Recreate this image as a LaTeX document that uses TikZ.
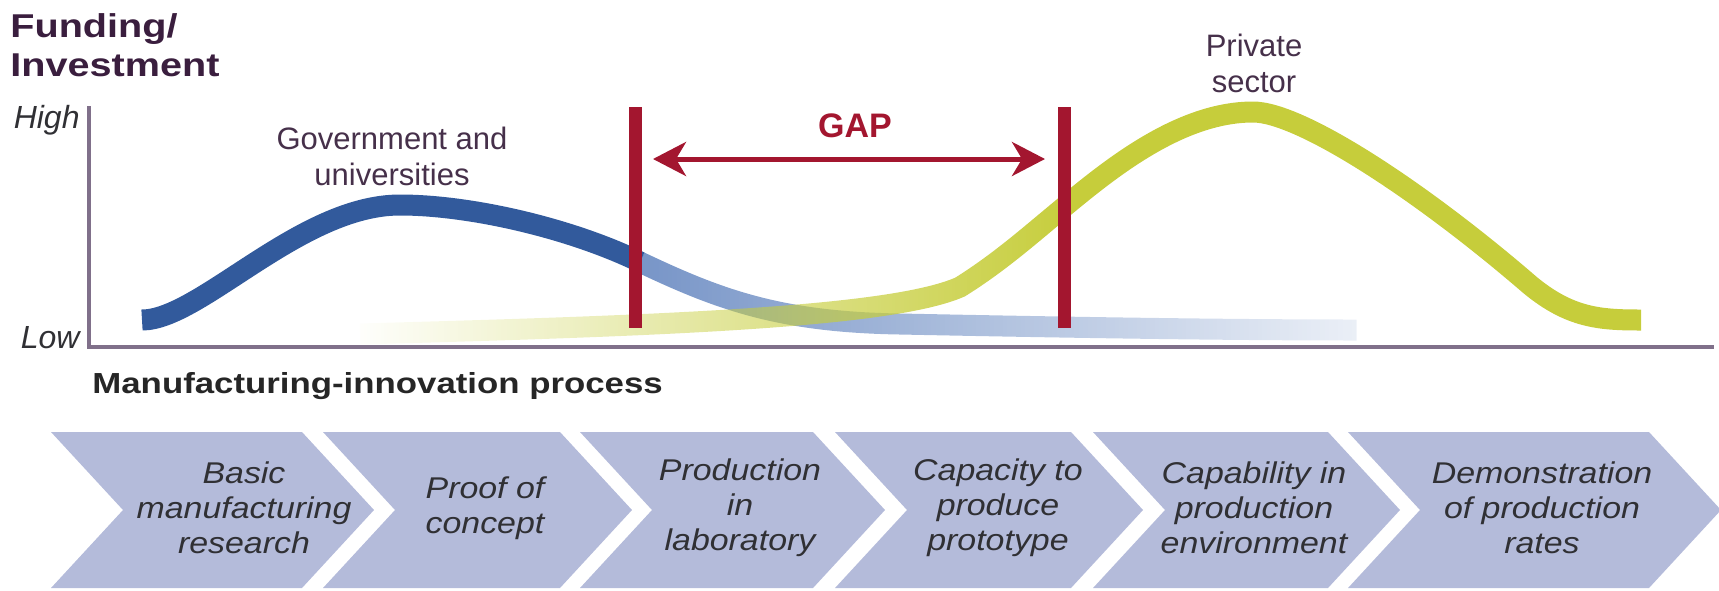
\documentclass[tikz,border=0pt]{standalone}
\usepackage{fontspec}
\setmainfont{Liberation Sans}
\newfontfamily\widefont[FakeStretch=1.2]{Liberation Sans}
\newfontfamily\stepfont[FakeStretch=1.13]{Liberation Sans}
\usetikzlibrary{arrows.meta,fadings}
\definecolor{plum}{RGB}{58,30,62}
\definecolor{labelplum}{RGB}{70,48,74}
\definecolor{axisgray}{RGB}{128,112,138}
\definecolor{gapred}{RGB}{163,22,47}
\definecolor{govblue}{RGB}{50,90,156}
\definecolor{paleblue}{RGB}{72,112,180}
\definecolor{privgreen}{RGB}{198,205,59}
\definecolor{chevfill}{RGB}{180,187,218}
\definecolor{stepgray}{RGB}{48,48,52}
\tikzfading[name=fadeblue, left color=transparent!25, right color=transparent!90]
\tikzfading[name=fadegreen, left color=transparent!100, right color=transparent!0]
\begin{document}
\begin{tikzpicture}
[x=0.5pt,y=-0.5pt,%
  every node/.style={inner sep=0pt},
  curve/.style={line width=10.5pt},
  redbar/.style={draw=gapred,line width=6.5pt},
  gaparrow/.style={draw=gapred,line width=2.5pt,
    {Stealth[length=16.5pt,width=17pt,inset=5pt]}-{Stealth[length=16.5pt,width=17pt,inset=5pt]}},
  axis/.style={draw=axisgray,line width=1.8pt},
  steptext/.style={font=\stepfont\itshape\fontsize{15}{17.5}\selectfont,text=stepgray,align=center},
  sector/.style={font=\fontsize{15.5}{18}\selectfont,text=labelplum,align=center,anchor=north},
  level/.style={font=\itshape\fontsize{16}{19}\selectfont,text=stepgray,anchor=base east}]
\useasboundingbox (0,0) rectangle (1719,590);
\node[anchor=north west,align=left,text=plum,
  font=\widefont\bfseries\fontsize{16.5}{19.5}\selectfont] (funding) at (10,13) {Funding/\\Investment};
\node[level] (high) at (80,128) {High};
\node[level] (low) at (80,348) {Low};
\draw[axis] (89,106) -- (89,347) -- (1714,347);
% government and universities
\draw[curve,govblue] (142,320) .. controls (200,320) and (300,205) .. (400,205)
  .. controls (470,205) and (570,228) .. (640,262);
\draw[curve,paleblue,path fading=fadeblue] (640,262) .. controls (720,300) and (780,322) .. (900,324)
  .. controls (1000,326) and (1200,330) .. (1357,330);
% private sector
\draw[curve,privgreen,path fading=fadegreen] (360,334) .. controls (650,326) and (890,318) .. (960,287)
  .. controls (1000,262) and (1030,235) .. (1064,207);
\draw[curve,privgreen] (1064,207) .. controls (1110,169) and (1180,112) .. (1253,112)
  .. controls (1300,112) and (1420,190) .. (1530,285)
  .. controls (1570,318) and (1600,320) .. (1641,320);
\node[sector] (gov) at (392,127) {Government and\\universities};
\node[sector] (private) at (1254,34) {Private\\sector};
% gap
\draw[redbar] (635,107) -- (635,328);
\draw[redbar] (1064,107) -- (1064,328);
\coordinate (gapL) at (653,159);
\coordinate (gapR) at (1045,159);
\draw[gaparrow] (gapL) -- (gapR);
\node[font=\bfseries\fontsize{17}{20}\selectfont,text=gapred,anchor=base] (gap) at (855,137) {GAP};
% process
\node[anchor=base west,text=black!85,
  font=\widefont\bfseries\fontsize{14.5}{17}\selectfont] (process) at (92,393) {Manufacturing-innovation process};
\foreach \l/\r/\c/\txt [count=\i] in {
  51/302/244/{Basic\\manufacturing\\research},
  323/560/485/{Proof of\\concept},
  580/813/740/{Production\\in\\laboratory},
  835/1071/998/{Capacity to\\produce\\prototype},
  1093/1328/1254/{Capability in\\production\\environment},
  1348/1649/1542/{Demonstration\\of production\\rates}}
{
  \fill[chevfill] (\l,432) -- (\r,432) -- ++(72,78) -- (\r,588) -- (\l,588) -- ++(72,-78) -- cycle;
  \node[steptext] (step\i) at (\c,508) {\txt};
}
\end{tikzpicture}
\end{document}
